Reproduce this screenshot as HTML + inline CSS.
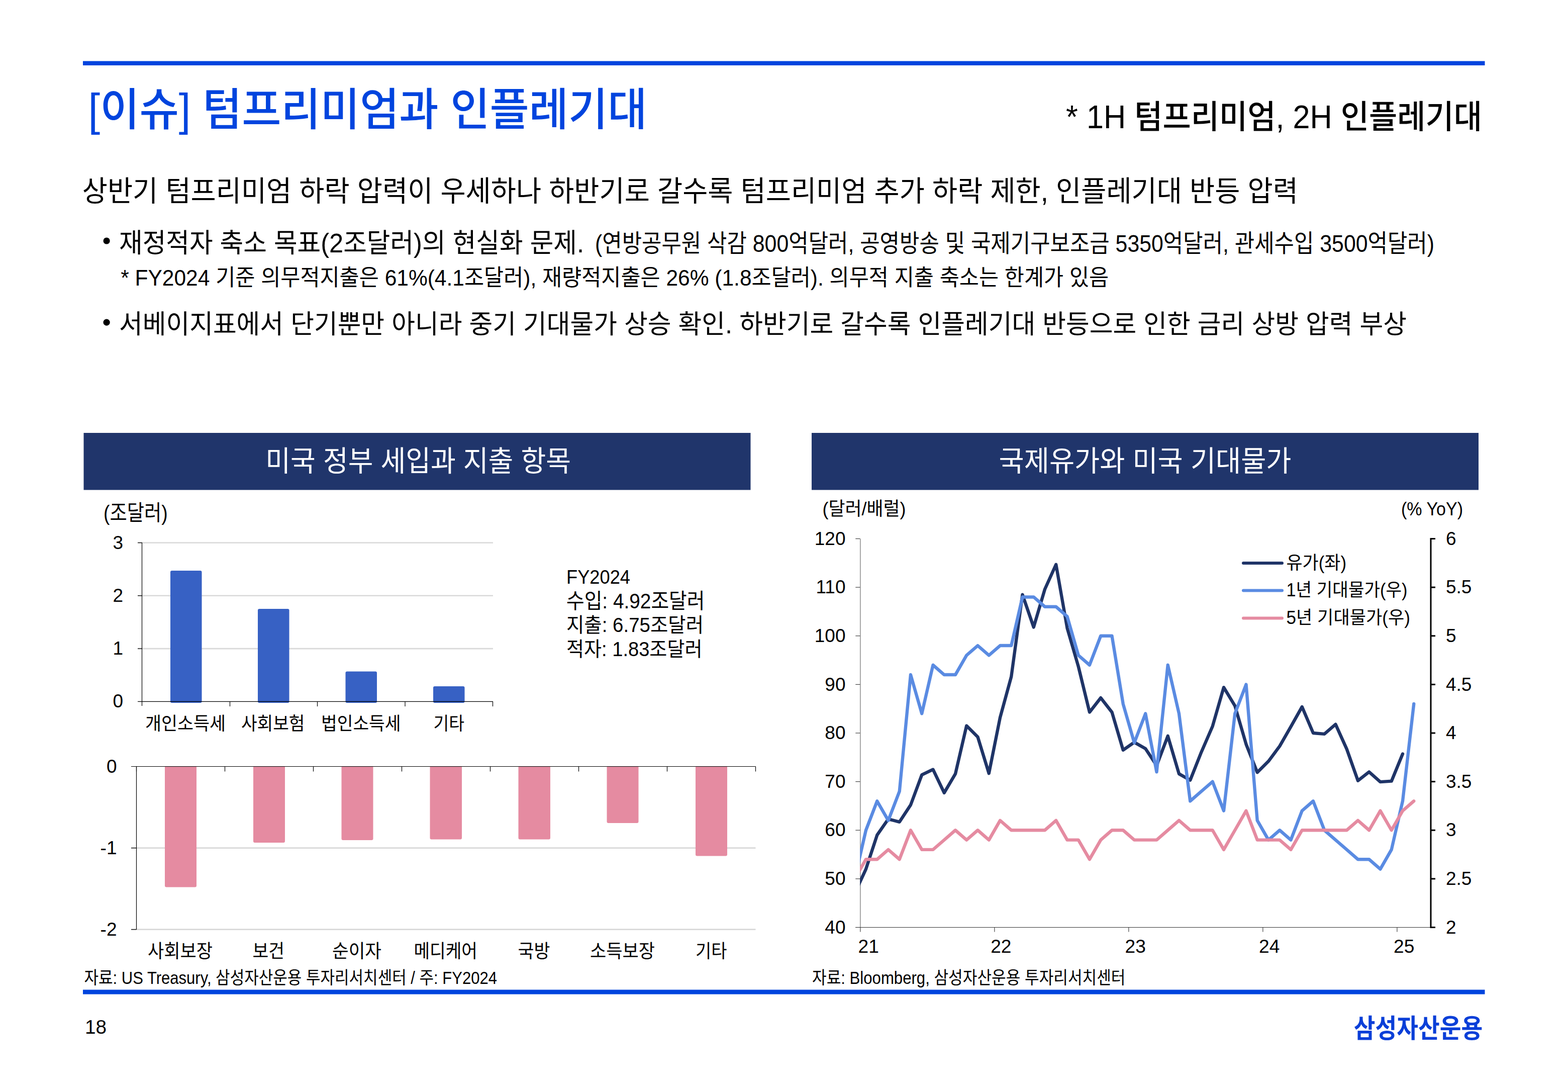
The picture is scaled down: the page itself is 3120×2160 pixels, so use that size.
<!DOCTYPE html>
<html lang="ko">
<head>
<meta charset="utf-8">
<title>[이슈] 텀프리미엄과 인플레기대</title>
<style>
html,body{margin:0;padding:0;background:#fff}
body{width:3120px;height:2160px;position:relative;overflow:hidden;font-family:"Liberation Sans","Noto Sans CJK KR",sans-serif}
#page{position:absolute;left:0;top:0;width:3120px;height:2160px;background:#fff}
#page svg{position:absolute;left:0;top:0}
#page svg text{font-family:"Liberation Sans","Noto Sans CJK KR",sans-serif}
.t{position:absolute;white-space:nowrap;overflow:hidden;color:transparent;line-height:1.17;font-family:"Liberation Sans","Noto Sans CJK KR",sans-serif}
</style>
</head>
<body>
<div id="page">
<svg width="3120" height="2160" viewBox="0 0 3120 2160">
<rect x="165" y="121.5" width="2789.5" height="8.5" fill="#0044de"/>
<rect x="165" y="1968.5" width="2789.5" height="9" fill="#0044de"/>
<text x="175.6" y="248.85" font-size="88.65" font-weight="500" fill="#0044de" textLength="1112" lengthAdjust="spacingAndGlyphs">[이슈] 텀프리미엄과 인플레기대</text>
<text x="2121.1" y="255.01" font-size="64.72" font-weight="500" fill="#000" textLength="828" lengthAdjust="spacingAndGlyphs">* 1H 텀프리미엄, 2H 인플레기대</text>
<text x="163.8" y="399.69" font-size="56.44" fill="#000" textLength="2419" lengthAdjust="spacingAndGlyphs">상반기 텀프리미엄 하락 압력이 우세하나 하반기로 갈수록 텀프리미엄 추가 하락 제한, 인플레기대 반등 압력</text>
<circle cx="212.1" cy="479" r="6.6" fill="#000"/>
<circle cx="212.1" cy="641.2" r="6.6" fill="#000"/>
<text x="237" y="501.69" font-size="53.91" fill="#000" textLength="925" lengthAdjust="spacingAndGlyphs">재정적자 축소 목표(2조달러)의 현실화 문제.</text>
<text x="1184" y="501.13" font-size="48.4" fill="#000" textLength="1670" lengthAdjust="spacingAndGlyphs">(연방공무원 삭감 800억달러, 공영방송 및 국제기구보조금 5350억달러, 관세수입 3500억달러)</text>
<text x="240.2" y="567.68" font-size="45.21" fill="#000" textLength="1966" lengthAdjust="spacingAndGlyphs">* FY2024 기준 의무적지출은 61%(4.1조달러), 재량적지출은 26% (1.8조달러). 의무적 지출 축소는 한계가 있음</text>
<text x="237" y="663.32" font-size="52.8" fill="#000" textLength="2562" lengthAdjust="spacingAndGlyphs">서베이지표에서 단기뿐만 아니라 중기 기대물가 상승 확인. 하반기로 갈수록 인플레기대 반등으로 인한 금리 상방 압력 부상</text>
<rect x="166.5" y="861" width="1327" height="113.5" fill="#20356b"/>
<rect x="1615" y="861" width="1327" height="113.5" fill="#20356b"/>
<text x="528.3" y="937.23" font-size="56.49" fill="#fff" textLength="607.7" lengthAdjust="spacingAndGlyphs">미국 정부 세입과 지출 항목</text>
<text x="1987.6" y="937.33" font-size="56.62" fill="#fff" textLength="581.9" lengthAdjust="spacingAndGlyphs">국제유가와 미국 기대물가</text>
<text x="206.1" y="1034.76" font-size="42.72" fill="#000" textLength="127.5" lengthAdjust="spacingAndGlyphs">(조달러)</text>
<path d="M274 1290.03L981 1290.03" stroke="#d9d9d9" stroke-width="2.7"/>
<path d="M274 1184.76L981 1184.76" stroke="#d9d9d9" stroke-width="2.7"/>
<path d="M274 1079.49L981 1079.49" stroke="#d9d9d9" stroke-width="2.7"/>
<rect x="339" y="1135" width="62.5" height="263" fill="#3761c4" rx="3"/>
<rect x="513" y="1211" width="62.5" height="187" fill="#3761c4" rx="3"/>
<rect x="687.5" y="1335.5" width="62.5" height="62.5" fill="#3761c4" rx="3"/>
<rect x="862" y="1365" width="62.5" height="33" fill="#3761c4" rx="3"/>
<path d="M282.5 1079L282.5 1404" stroke="#000" stroke-width="1.2"/>
<path d="M274 1395.3L981 1395.3" stroke="#000" stroke-width="1.2"/>
<path d="M274 1290.03L282.5 1290.03" stroke="#000" stroke-width="1.2"/>
<path d="M274 1184.76L282.5 1184.76" stroke="#000" stroke-width="1.2"/>
<path d="M274 1079.49L282.5 1079.49" stroke="#000" stroke-width="1.2"/>
<path d="M457.5 1395.3L457.5 1405" stroke="#000" stroke-width="1.2"/>
<path d="M631.5 1395.3L631.5 1405" stroke="#000" stroke-width="1.2"/>
<path d="M806 1395.3L806 1405" stroke="#000" stroke-width="1.2"/>
<path d="M980.5 1395.3L980.5 1405" stroke="#000" stroke-width="1.2"/>
<text x="245" y="1407.47" font-size="36.99" fill="#000" text-anchor="end">0</text>
<text x="245" y="1302.2" font-size="36.99" fill="#000" text-anchor="end">1</text>
<text x="245" y="1196.93" font-size="36.99" fill="#000" text-anchor="end">2</text>
<text x="245" y="1091.66" font-size="36.99" fill="#000" text-anchor="end">3</text>
<text x="289" y="1451.8" font-size="36.81" fill="#000" textLength="160" lengthAdjust="spacingAndGlyphs">개인소득세</text>
<text x="480" y="1451.8" font-size="36.81" fill="#000" textLength="126.5" lengthAdjust="spacingAndGlyphs">사회보험</text>
<text x="639" y="1451.8" font-size="36.81" fill="#000" textLength="158.5" lengthAdjust="spacingAndGlyphs">법인소득세</text>
<text x="862.5" y="1451.8" font-size="36.81" fill="#000" textLength="61.5" lengthAdjust="spacingAndGlyphs">기타</text>
<text x="1127" y="1160.58" font-size="38.75" fill="#000" textLength="127" lengthAdjust="spacingAndGlyphs">FY2024</text>
<text x="1127" y="1209.8" font-size="42.18" fill="#000" textLength="275.5" lengthAdjust="spacingAndGlyphs">수입: 4.92조달러</text>
<text x="1127" y="1256.93" font-size="39.91" fill="#000" textLength="273" lengthAdjust="spacingAndGlyphs">지출: 6.75조달러</text>
<text x="1127" y="1305.43" font-size="39.91" fill="#000" textLength="270.5" lengthAdjust="spacingAndGlyphs">적자: 1.83조달러</text>
<path d="M261 1686.6L1503.5 1686.6" stroke="#d9d9d9" stroke-width="2.7"/>
<path d="M261 1848.7L1503.5 1848.7" stroke="#d9d9d9" stroke-width="2.7"/>
<path d="M328 1524.5H391V1761.5q0 3 -3 3H331q-3 0 -3 -3z" fill="#e58ba1"/>
<path d="M504 1524.5H567V1673q0 3 -3 3H507q-3 0 -3 -3z" fill="#e58ba1"/>
<path d="M679.5 1524.5H742.5V1668q0 3 -3 3H682.5q-3 0 -3 -3z" fill="#e58ba1"/>
<path d="M855.5 1524.5H919V1666.5q0 3 -3 3H858.5q-3 0 -3 -3z" fill="#e58ba1"/>
<path d="M1031.5 1524.5H1095V1666.5q0 3 -3 3H1034.5q-3 0 -3 -3z" fill="#e58ba1"/>
<path d="M1207.5 1524.5H1270.5V1634q0 3 -3 3H1210.5q-3 0 -3 -3z" fill="#e58ba1"/>
<path d="M1384 1524.5H1447V1699.5q0 3 -3 3H1387q-3 0 -3 -3z" fill="#e58ba1"/>
<path d="M271.5 1524.5L271.5 1848.7" stroke="#000" stroke-width="1.2"/>
<path d="M261 1524.5L1503.5 1524.5" stroke="#000" stroke-width="1.2"/>
<path d="M261 1686.6L271.5 1686.6" stroke="#000" stroke-width="1.2"/>
<path d="M261 1848.7L271.5 1848.7" stroke="#000" stroke-width="1.2"/>
<path d="M271.5 1524.5L271.5 1534.5" stroke="#000" stroke-width="1.2"/>
<path d="M447.5 1524.5L447.5 1534.5" stroke="#000" stroke-width="1.2"/>
<path d="M623.5 1524.5L623.5 1534.5" stroke="#000" stroke-width="1.2"/>
<path d="M799.5 1524.5L799.5 1534.5" stroke="#000" stroke-width="1.2"/>
<path d="M975.5 1524.5L975.5 1534.5" stroke="#000" stroke-width="1.2"/>
<path d="M1151.5 1524.5L1151.5 1534.5" stroke="#000" stroke-width="1.2"/>
<path d="M1327.5 1524.5L1327.5 1534.5" stroke="#000" stroke-width="1.2"/>
<path d="M1503.5 1524.5L1503.5 1534.5" stroke="#000" stroke-width="1.2"/>
<text x="232.5" y="1536.67" font-size="36.99" fill="#000" text-anchor="end">0</text>
<text x="232.5" y="1698.77" font-size="36.99" fill="#000" text-anchor="end">-1</text>
<text x="232.5" y="1860.87" font-size="36.99" fill="#000" text-anchor="end">-2</text>
<text x="294" y="1905.18" font-size="37.14" fill="#000" textLength="129" lengthAdjust="spacingAndGlyphs">사회보장</text>
<text x="502.5" y="1905.18" font-size="37.14" fill="#000" textLength="63.5" lengthAdjust="spacingAndGlyphs">보건</text>
<text x="661" y="1905.18" font-size="37.14" fill="#000" textLength="98" lengthAdjust="spacingAndGlyphs">순이자</text>
<text x="823.5" y="1905.18" font-size="37.14" fill="#000" textLength="126.5" lengthAdjust="spacingAndGlyphs">메디케어</text>
<text x="1030.5" y="1905.18" font-size="37.14" fill="#000" textLength="64" lengthAdjust="spacingAndGlyphs">국방</text>
<text x="1174" y="1905.18" font-size="37.14" fill="#000" textLength="129" lengthAdjust="spacingAndGlyphs">소득보장</text>
<text x="1384" y="1905.18" font-size="37.14" fill="#000" textLength="62.5" lengthAdjust="spacingAndGlyphs">기타</text>
<text x="167.5" y="1956.79" font-size="34.81" fill="#000" textLength="821.5" lengthAdjust="spacingAndGlyphs">자료: US Treasury, 삼성자산운용 투자리서치센터 / 주: FY2024</text>
<text x="1636.5" y="1025.1" font-size="37.04" fill="#000" textLength="166" lengthAdjust="spacingAndGlyphs">(달러/배럴)</text>
<text x="2788" y="1024.66" font-size="37.53" fill="#000" textLength="123" lengthAdjust="spacingAndGlyphs">(% YoY)</text>
<clipPath id="cl"><rect x="1711.2" y="1000" width="1200" height="900"/></clipPath>
<path d="M1711.9 1071.5L1711.9 1844.5" stroke="#7a7a7a" stroke-width="1.3"/>
<path d="M1702.3 1844.5L2847 1844.5" stroke="#333" stroke-width="1.1"/>
<path d="M1702.3 1071.5L1711.4 1071.5" stroke="#333" stroke-width="1.1"/>
<path d="M1702.3 1168.12L1711.4 1168.12" stroke="#333" stroke-width="1.1"/>
<path d="M1702.3 1264.75L1711.4 1264.75" stroke="#333" stroke-width="1.1"/>
<path d="M1702.3 1361.38L1711.4 1361.38" stroke="#333" stroke-width="1.1"/>
<path d="M1702.3 1458L1711.4 1458" stroke="#333" stroke-width="1.1"/>
<path d="M1702.3 1554.62L1711.4 1554.62" stroke="#333" stroke-width="1.1"/>
<path d="M1702.3 1651.25L1711.4 1651.25" stroke="#333" stroke-width="1.1"/>
<path d="M1702.3 1747.88L1711.4 1747.88" stroke="#333" stroke-width="1.1"/>
<path d="M1702.3 1844.5L1711.4 1844.5" stroke="#333" stroke-width="1.1"/>
<path d="M1711.9 1844.5L1711.9 1853.5" stroke="#333" stroke-width="1.1"/>
<path d="M1978.9 1844.5L1978.9 1853.5" stroke="#333" stroke-width="1.1"/>
<path d="M2245.9 1844.5L2245.9 1853.5" stroke="#333" stroke-width="1.1"/>
<path d="M2512.9 1844.5L2512.9 1853.5" stroke="#333" stroke-width="1.1"/>
<path d="M2779.9 1844.5L2779.9 1853.5" stroke="#333" stroke-width="1.1"/>
<g clip-path="url(#cl)" fill="none" stroke-width="6.4" stroke-linejoin="round" stroke-linecap="round">
<path d="M1700.75 1776.86L1723 1728.55L1745.25 1660.91L1767.5 1629.03L1789.75 1634.82L1812 1601L1834.25 1541.1L1856.5 1530.47L1878.75 1576.85L1901 1539.16L1923.25 1443.51L1945.5 1465.73L1967.75 1538.2L1990 1427.08L2012.25 1345.91L2034.5 1182.62L2056.75 1247.36L2079 1171.99L2101.25 1122.71L2123.5 1249.29L2145.75 1325.62L2168 1416.45L2190.25 1387.95L2212.5 1416.45L2234.75 1491.82L2257 1476.36L2279.25 1488.92L2301.5 1522.74L2323.75 1463.8L2346 1539.16L2368.25 1551.73L2390.5 1495.68L2412.75 1444.47L2435 1367.17L2457.25 1403.89L2479.5 1480.22L2501.75 1536.27L2524 1514.04L2546.25 1484.09L2568.5 1445.44L2590.75 1405.82L2613 1458L2635.25 1459.93L2657.5 1440.61L2679.75 1489.89L2702 1552.69L2724.25 1535.3L2746.5 1555.11L2768.75 1553.66L2791 1499.55" stroke="#1f3467"/>
<path d="M1700.75 1747.88L1723 1651.25L1745.25 1593.28L1767.5 1631.92L1789.75 1573.95L1812 1342.05L1834.25 1419.35L1856.5 1322.72L1878.75 1342.05L1901 1342.05L1923.25 1303.4L1945.5 1284.07L1967.75 1303.4L1990 1284.07L2012.25 1284.07L2034.5 1187.45L2056.75 1187.45L2079 1206.78L2101.25 1206.78L2123.5 1226.1L2145.75 1303.4L2168 1322.72L2190.25 1264.75L2212.5 1264.75L2234.75 1400.03L2257 1477.33L2279.25 1419.35L2301.5 1535.3L2323.75 1322.72L2346 1419.35L2368.25 1593.28L2390.5 1573.95L2412.75 1554.62L2435 1612.6L2457.25 1419.35L2479.5 1361.38L2501.75 1631.92L2524 1670.58L2546.25 1651.25L2568.5 1670.58L2590.75 1612.6L2613 1593.28L2635.25 1651.25L2657.5 1670.58L2679.75 1689.9L2702 1709.22L2724.25 1709.22L2746.5 1728.55L2768.75 1689.9L2791 1593.28L2813.25 1400.03" stroke="#5a8be2"/>
<path d="M1700.75 1747.88L1723 1709.22L1745.25 1709.22L1767.5 1689.9L1789.75 1709.22L1812 1651.25L1834.25 1689.9L1856.5 1689.9L1878.75 1670.58L1901 1651.25L1923.25 1670.58L1945.5 1651.25L1967.75 1670.58L1990 1631.92L2012.25 1651.25L2034.5 1651.25L2056.75 1651.25L2079 1651.25L2101.25 1631.92L2123.5 1670.58L2145.75 1670.58L2168 1709.22L2190.25 1670.58L2212.5 1651.25L2234.75 1651.25L2257 1670.58L2279.25 1670.58L2301.5 1670.58L2323.75 1651.25L2346 1631.92L2368.25 1651.25L2390.5 1651.25L2412.75 1651.25L2435 1689.9L2457.25 1651.25L2479.5 1612.6L2501.75 1670.58L2524 1670.58L2546.25 1670.58L2568.5 1689.9L2590.75 1651.25L2613 1651.25L2635.25 1651.25L2657.5 1651.25L2679.75 1651.25L2702 1631.92L2724.25 1651.25L2746.5 1612.6L2768.75 1651.25L2791 1612.6L2813.25 1593.28" stroke="#e58ba1"/>
</g>
<path d="M2847 1070L2847 1846" stroke="#000" stroke-width="3"/>
<path d="M2847 1071.5L2856 1071.5" stroke="#000" stroke-width="3"/>
<path d="M2847 1168.12L2856 1168.12" stroke="#000" stroke-width="3"/>
<path d="M2847 1264.75L2856 1264.75" stroke="#000" stroke-width="3"/>
<path d="M2847 1361.38L2856 1361.38" stroke="#000" stroke-width="3"/>
<path d="M2847 1458L2856 1458" stroke="#000" stroke-width="3"/>
<path d="M2847 1554.62L2856 1554.62" stroke="#000" stroke-width="3"/>
<path d="M2847 1651.25L2856 1651.25" stroke="#000" stroke-width="3"/>
<path d="M2847 1747.88L2856 1747.88" stroke="#000" stroke-width="3"/>
<path d="M2847 1844.5L2856 1844.5" stroke="#000" stroke-width="3"/>
<text x="1682.5" y="1083.67" font-size="36.99" fill="#000" text-anchor="end">120</text>
<text x="1682.5" y="1180.3" font-size="36.99" fill="#000" text-anchor="end">110</text>
<text x="1682.5" y="1276.92" font-size="36.99" fill="#000" text-anchor="end">100</text>
<text x="1682.5" y="1373.55" font-size="36.99" fill="#000" text-anchor="end">90</text>
<text x="1682.5" y="1470.17" font-size="36.99" fill="#000" text-anchor="end">80</text>
<text x="1682.5" y="1566.8" font-size="36.99" fill="#000" text-anchor="end">70</text>
<text x="1682.5" y="1663.42" font-size="36.99" fill="#000" text-anchor="end">60</text>
<text x="1682.5" y="1760.05" font-size="36.99" fill="#000" text-anchor="end">50</text>
<text x="1682.5" y="1856.67" font-size="36.99" fill="#000" text-anchor="end">40</text>
<text x="2877" y="1083.67" font-size="36.99" fill="#000">6</text>
<text x="2877" y="1180.3" font-size="36.99" fill="#000">5.5</text>
<text x="2877" y="1276.92" font-size="36.99" fill="#000">5</text>
<text x="2877" y="1373.55" font-size="36.99" fill="#000">4.5</text>
<text x="2877" y="1470.17" font-size="36.99" fill="#000">4</text>
<text x="2877" y="1566.8" font-size="36.99" fill="#000">3.5</text>
<text x="2877" y="1663.42" font-size="36.99" fill="#000">3</text>
<text x="2877" y="1760.05" font-size="36.99" fill="#000">2.5</text>
<text x="2877" y="1856.67" font-size="36.99" fill="#000">2</text>
<text x="1707.5" y="1895.46" font-size="37.15" fill="#000">21</text>
<text x="1971.2" y="1895.46" font-size="37.15" fill="#000">22</text>
<text x="2238.5" y="1895.46" font-size="37.15" fill="#000">23</text>
<text x="2505" y="1895.46" font-size="37.15" fill="#000">24</text>
<text x="2773" y="1895.46" font-size="37.15" fill="#000">25</text>
<path d="M2474 1120H2551" stroke="#1f3467" stroke-width="6" stroke-linecap="round"/>
<path d="M2474 1174.5H2551" stroke="#5a8be2" stroke-width="6" stroke-linecap="round"/>
<path d="M2474 1229.5H2551" stroke="#e58ba1" stroke-width="6" stroke-linecap="round"/>
<text x="2559.5" y="1131.76" font-size="36.03" fill="#000" textLength="119.5" lengthAdjust="spacingAndGlyphs">유가(좌)</text>
<text x="2559.5" y="1186.16" font-size="36.03" fill="#000" textLength="241" lengthAdjust="spacingAndGlyphs">1년 기대물가(우)</text>
<text x="2559.5" y="1241.16" font-size="36.03" fill="#000" textLength="246.5" lengthAdjust="spacingAndGlyphs">5년 기대물가(우)</text>
<text x="1616" y="1956.79" font-size="34.81" fill="#000" textLength="623.5" lengthAdjust="spacingAndGlyphs">자료: Bloomberg, 삼성자산운용 투자리서치센터</text>
<text x="169.1" y="2056.26" font-size="38.69" fill="#000">18</text>
<text x="2693.8" y="2064.38" font-size="52.18" font-weight="700" fill="#0a3fd8" textLength="256.6" lengthAdjust="spacingAndGlyphs">삼성자산운용</text>
</svg>
<div id="text">
<div class="t" style="left:175.6px;top:170.84px;width:1111.9px;height:103.72px;font-size:88.65px">[이슈] 텀프리미엄과 인플레기대</div>
<div class="t" style="left:2121.1px;top:198.06px;width:828.4px;height:75.72px;font-size:64.72px">* 1H 텀프리미엄, 2H 인플레기대</div>
<div class="t" style="left:163.8px;top:350.02px;width:2419px;height:66.03px;font-size:56.44px">상반기 텀프리미엄 하락 압력이 우세하나 하반기로 갈수록 텀프리미엄 추가 하락 제한, 인플레기대 반등 압력</div>
<div class="t" style="left:205px;top:454.25px;width:957.5px;height:63.07px;font-size:53.91px">• 재정적자 축소 목표(2조달러)의 현실화 문제.</div>
<div class="t" style="left:1184px;top:458.53px;width:1670.5px;height:56.63px;font-size:48.4px">(연방공무원 삭감 800억달러, 공영방송 및 국제기구보조금 5350억달러, 관세수입 3500억달러)</div>
<div class="t" style="left:240.2px;top:527.89px;width:1966.8px;height:52.9px;font-size:45.21px">* FY2024 기준 의무적지출은 61%(4.1조달러), 재량적지출은 26% (1.8조달러). 의무적 지출 축소는 한계가 있음</div>
<div class="t" style="left:205px;top:616.86px;width:2594.5px;height:61.77px;font-size:52.8px">• 서베이지표에서 단기뿐만 아니라 중기 기대물가 상승 확인. 하반기로 갈수록 인플레기대 반등으로 인한 금리 상방 압력 부상</div>
<div class="t" style="left:528.3px;top:887.52px;width:607.7px;height:66.09px;font-size:56.49px">미국 정부 세입과 지출 항목</div>
<div class="t" style="left:1987.6px;top:887.51px;width:581.9px;height:66.24px;font-size:56.62px">국제유가와 미국 기대물가</div>
<div class="t" style="left:206.1px;top:997.17px;width:127.5px;height:49.98px;font-size:42.72px">(조달러)</div>
<div class="t" style="left:228.24px;top:1374.93px;width:16.76px;height:43.27px;font-size:36.99px">0</div>
<div class="t" style="left:235.99px;top:1269.66px;width:9.01px;height:43.27px;font-size:36.99px">1</div>
<div class="t" style="left:228.42px;top:1164.39px;width:16.58px;height:43.27px;font-size:36.99px">2</div>
<div class="t" style="left:228.32px;top:1059.12px;width:16.68px;height:43.27px;font-size:36.99px">3</div>
<div class="t" style="left:289px;top:1419.41px;width:160px;height:43.06px;font-size:36.81px">개인소득세</div>
<div class="t" style="left:480px;top:1419.41px;width:126.5px;height:43.06px;font-size:36.81px">사회보험</div>
<div class="t" style="left:639px;top:1419.41px;width:158.5px;height:43.06px;font-size:36.81px">법인소득세</div>
<div class="t" style="left:862.5px;top:1419.41px;width:61.5px;height:43.06px;font-size:36.81px">기타</div>
<div class="t" style="left:1127px;top:1126.48px;width:127px;height:45.34px;font-size:38.75px">FY2024</div>
<div class="t" style="left:1127px;top:1172.68px;width:275.5px;height:49.35px;font-size:42.18px">수입: 4.92조달러</div>
<div class="t" style="left:1127px;top:1221.8px;width:273px;height:46.7px;font-size:39.91px">지출: 6.75조달러</div>
<div class="t" style="left:1127px;top:1270.3px;width:270.5px;height:46.7px;font-size:39.91px">적자: 1.83조달러</div>
<div class="t" style="left:215.74px;top:1504.13px;width:16.76px;height:43.27px;font-size:36.99px">0</div>
<div class="t" style="left:205.67px;top:1666.23px;width:25.33px;height:43.27px;font-size:36.99px">-1</div>
<div class="t" style="left:199.89px;top:1828.33px;width:32.61px;height:43.27px;font-size:36.99px">-2</div>
<div class="t" style="left:294px;top:1872.49px;width:129px;height:43.45px;font-size:37.14px">사회보장</div>
<div class="t" style="left:502.5px;top:1872.49px;width:63.5px;height:43.45px;font-size:37.14px">보건</div>
<div class="t" style="left:661px;top:1872.49px;width:98px;height:43.45px;font-size:37.14px">순이자</div>
<div class="t" style="left:823.5px;top:1872.49px;width:126.5px;height:43.45px;font-size:37.14px">메디케어</div>
<div class="t" style="left:1030.5px;top:1872.49px;width:64px;height:43.45px;font-size:37.14px">국방</div>
<div class="t" style="left:1174px;top:1872.49px;width:129px;height:43.45px;font-size:37.14px">소득보장</div>
<div class="t" style="left:1384px;top:1872.49px;width:62.5px;height:43.45px;font-size:37.14px">기타</div>
<div class="t" style="left:167.5px;top:1926.16px;width:821.5px;height:40.72px;font-size:34.81px">자료: US Treasury, 삼성자산운용 투자리서치센터 / 주: FY2024</div>
<div class="t" style="left:1636.5px;top:992.5px;width:166px;height:43.34px;font-size:37.04px">(달러/배럴)</div>
<div class="t" style="left:2788px;top:991.64px;width:123px;height:43.91px;font-size:37.53px">(% YoY)</div>
<div class="t" style="left:1632.81px;top:1051.13px;width:49.69px;height:43.27px;font-size:36.99px">120</div>
<div class="t" style="left:1638.68px;top:1147.75px;width:43.82px;height:43.27px;font-size:36.99px">110</div>
<div class="t" style="left:1632.81px;top:1244.38px;width:49.69px;height:43.27px;font-size:36.99px">100</div>
<div class="t" style="left:1646.17px;top:1341px;width:36.33px;height:43.27px;font-size:36.99px">90</div>
<div class="t" style="left:1646.24px;top:1437.63px;width:36.26px;height:43.27px;font-size:36.99px">80</div>
<div class="t" style="left:1646.06px;top:1534.25px;width:36.44px;height:43.27px;font-size:36.99px">70</div>
<div class="t" style="left:1646.46px;top:1630.88px;width:36.04px;height:43.27px;font-size:36.99px">60</div>
<div class="t" style="left:1646.71px;top:1727.5px;width:35.79px;height:43.27px;font-size:36.99px">50</div>
<div class="t" style="left:1645.08px;top:1824.13px;width:37.42px;height:43.27px;font-size:36.99px">40</div>
<div class="t" style="left:2877px;top:1051.13px;width:16.68px;height:43.27px;font-size:36.99px">6</div>
<div class="t" style="left:2877px;top:1147.75px;width:43.5px;height:43.27px;font-size:36.99px">5.5</div>
<div class="t" style="left:2877px;top:1244.38px;width:16.07px;height:43.27px;font-size:36.99px">5</div>
<div class="t" style="left:2877px;top:1341px;width:45.13px;height:43.27px;font-size:36.99px">4.5</div>
<div class="t" style="left:2877px;top:1437.63px;width:19.29px;height:43.27px;font-size:36.99px">4</div>
<div class="t" style="left:2877px;top:1534.25px;width:44.26px;height:43.27px;font-size:36.99px">3.5</div>
<div class="t" style="left:2877px;top:1630.88px;width:16.68px;height:43.27px;font-size:36.99px">3</div>
<div class="t" style="left:2877px;top:1727.5px;width:44.04px;height:43.27px;font-size:36.99px">2.5</div>
<div class="t" style="left:2877px;top:1824.13px;width:16.58px;height:43.27px;font-size:36.99px">2</div>
<div class="t" style="left:1707.53px;top:1862.77px;width:28.93px;height:43.46px;font-size:37.15px">21</div>
<div class="t" style="left:1971.18px;top:1862.77px;width:36.24px;height:43.46px;font-size:37.15px">22</div>
<div class="t" style="left:2238.54px;top:1862.77px;width:36.13px;height:43.46px;font-size:37.15px">23</div>
<div class="t" style="left:2504.96px;top:1862.77px;width:37.87px;height:43.46px;font-size:37.15px">24</div>
<div class="t" style="left:2773.06px;top:1862.77px;width:36.27px;height:43.46px;font-size:37.15px">25</div>
<div class="t" style="left:2559.5px;top:1100.05px;width:119.5px;height:42.16px;font-size:36.03px">유가(좌)</div>
<div class="t" style="left:2559.5px;top:1154.45px;width:241px;height:42.16px;font-size:36.03px">1년 기대물가(우)</div>
<div class="t" style="left:2559.5px;top:1209.45px;width:246.5px;height:42.16px;font-size:36.03px">5년 기대물가(우)</div>
<div class="t" style="left:1616px;top:1926.16px;width:623.5px;height:40.72px;font-size:34.81px">자료: Bloomberg, 삼성자산운용 투자리서치센터</div>
<div class="t" style="left:169.1px;top:2022.21px;width:32.9px;height:45.27px;font-size:38.69px">18</div>
<div class="t" style="left:2693.8px;top:2018.46px;width:256.6px;height:61.05px;font-size:52.18px">삼성자산운용</div>
</div>
</div>
</body>
</html>
